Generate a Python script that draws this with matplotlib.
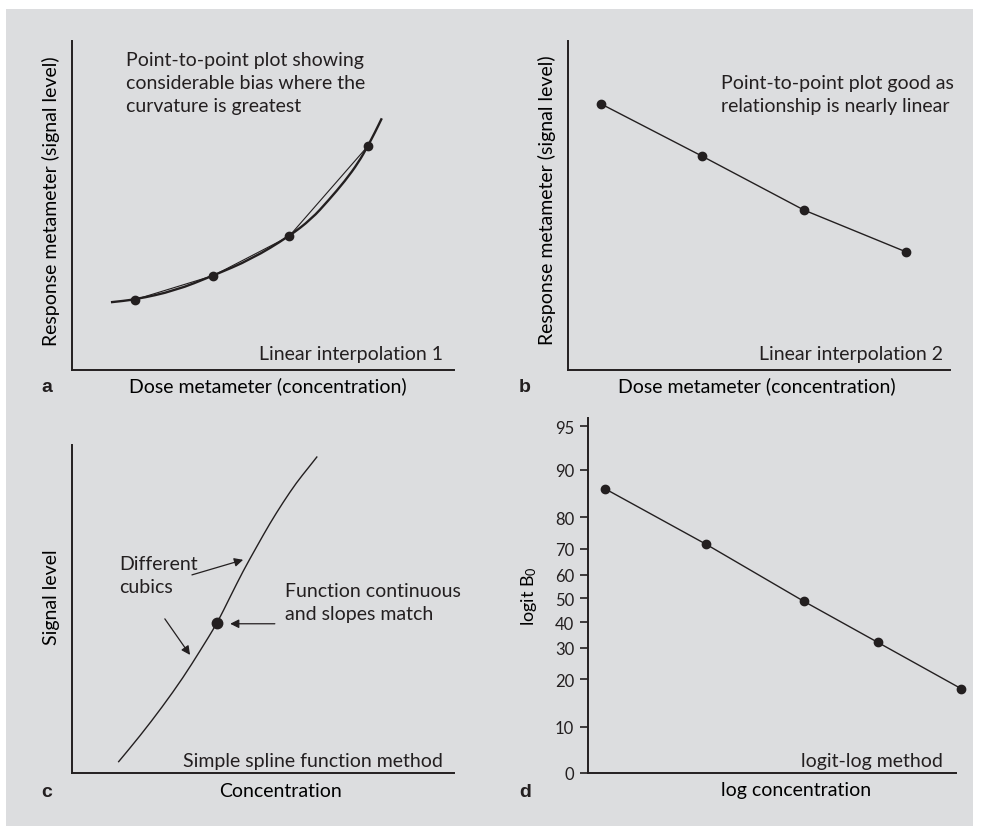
import numpy as np
import matplotlib
matplotlib.use('Agg')
import matplotlib.pyplot as plt
from matplotlib.patches import Rectangle, PathPatch
from matplotlib.path import Path

# --- data (arbitrary units, axes run 0..10) ---
# a: true curve and the four standards joined point to point
curve_a_x = [1.02, 1.65, 2.70, 3.70, 4.70, 5.68, 6.27, 6.71, 7.15, 7.50, 7.74, 7.93, 8.11]
curve_a_y = [2.06, 2.14, 2.41, 2.87, 3.37, 4.06, 4.59, 5.15, 5.75, 6.31, 6.80, 7.22, 7.65]
std_a_x = [1.65, 3.70, 5.68, 7.74]
std_a_y = [2.14, 2.87, 4.06, 6.80]

# b: nearly linear relationship
std_b_x = [0.86, 3.51, 6.18, 8.85]
std_b_y = [8.09, 6.50, 4.86, 3.59]

# c: spline made of two cubics meeting at a knot
curve_c_x = [1.21, 1.78, 2.36, 2.91, 3.35, 3.80, 4.14, 4.48, 4.84, 5.18, 5.53, 5.88, 6.19, 6.42]
curve_c_y = [0.33, 1.13, 2.01, 2.91, 3.72, 4.57, 5.37, 6.16, 6.91, 7.61, 8.26, 8.86, 9.31, 9.65]
knot_c_x = [3.80]
knot_c_y = [4.57]

# d: logit B0 (%) against log concentration
log_conc_d = [0.46, 3.21, 5.87, 7.88, 10.14]
b0_d = [86.7, 71.6, 48.7, 32.0, 17.6]
b0_ticks = [0, 10, 20, 30, 40, 50, 60, 70, 80, 90, 95]

ink = '#231f20'
plt.rcParams['font.family'] = ['Lato', 'DejaVu Sans']
plt.rcParams['mathtext.fontset'] = 'custom'
plt.rcParams['mathtext.rm'] = 'Lato'
plt.rcParams['mathtext.it'] = 'Lato:italic'
plt.rcParams['text.color'] = ink

W, H = 982, 829
fig = plt.figure(figsize=(W / 100, H / 100), dpi=100, facecolor='white')
fig.add_artist(Rectangle((6 / W, 2 / H), 967 / W, 817 / H, transform=fig.transFigure,
                         facecolor='#dcdddf', edgecolor='none', zorder=0))


def px_axes(x0, x1, ytop, ybot):
    return fig.add_axes([x0 / W, (H - ybot) / H, (x1 - x0) / W, (ybot - ytop) / H])


def style(ax, ticks=False):
    ax.set_facecolor('none')
    for s in ['top', 'right']:
        ax.spines[s].set_visible(False)
    for s in ['left', 'bottom']:
        ax.spines[s].set_linewidth(1.4)
        ax.spines[s].set_color(ink)
    ax.set_xticks([])
    if not ticks:
        ax.set_yticks([])


def smooth_line(ax, xs, ys, **kw):
    pts = np.column_stack([xs, ys])
    mids = (pts[:-1] + pts[1:]) / 2
    verts = [pts[0], mids[0]]
    codes = [Path.MOVETO, Path.LINETO]
    for i in range(1, len(pts) - 1):
        verts += [pts[i], mids[i]]
        codes += [Path.CURVE3, Path.CURVE3]
    verts.append(pts[-1])
    codes.append(Path.LINETO)
    ax.add_patch(PathPatch(Path(verts, codes), fill=False, edgecolor=ink, **kw))


fs = 14

# ---------- a ----------
ax_a = px_axes(72, 454, 42, 371)
style(ax_a)
ax_a.set_xlim(0, 10)
ax_a.set_ylim(0, 10)
smooth_line(ax_a, curve_a_x, curve_a_y, lw=1.7, capstyle='butt')
ax_a.plot(std_a_x, std_a_y, color=ink, lw=0.8, marker='o', ms=6)
ax_a.text(1.41, 7.88, 'Point-to-point plot showing\nconsiderable bias where the\ncurvature is greatest',
          fontsize=fs, va='baseline', ha='left', linespacing=1.42)
ax_a.text(0.971, 0.033, 'Linear interpolation 1', transform=ax_a.transAxes,
          fontsize=fs, ha='right', va='baseline')
ax_a.set_xlabel('Dose metameter (concentration)', fontsize=fs, va='baseline')
ax_a.xaxis.set_label_coords(0.513, (371 - 392) / 329)
ax_a.set_ylabel('Response metameter (signal level)', fontsize=fs, va='baseline')
ax_a.yaxis.set_label_coords((57 - 72) / 382, 0.517)

# ---------- b ----------
ax_b = px_axes(568, 950, 42, 371)
style(ax_b)
ax_b.set_xlim(0, 10)
ax_b.set_ylim(0, 10)
ax_b.plot(std_b_x, std_b_y, color=ink, lw=1.0, marker='o', ms=6)
ax_b.text(4.01, 7.87, 'Point-to-point plot good as\nrelationship is nearly linear',
          fontsize=fs, va='baseline', ha='left', linespacing=1.42)
ax_b.text(0.982, 0.033, 'Linear interpolation 2', transform=ax_b.transAxes,
          fontsize=fs, ha='right', va='baseline')
ax_b.set_xlabel('Dose metameter (concentration)', fontsize=fs, va='baseline')
ax_b.xaxis.set_label_coords((757 - 568) / 382, (371 - 392) / 329)
ax_b.set_ylabel('Response metameter (signal level)', fontsize=fs, va='baseline')
ax_b.yaxis.set_label_coords((553 - 568) / 382, 0.518)

# ---------- c ----------
ax_c = px_axes(72, 454, 446, 774)
style(ax_c)
ax_c.set_xlim(0, 10)
ax_c.set_ylim(0, 10)
smooth_line(ax_c, curve_c_x, curve_c_y, lw=1.0)
ax_c.plot(knot_c_x, knot_c_y, 'o', color=ink, ms=7.5)
arrow = dict(arrowstyle='-|>', color=ink, lw=0.9, mutation_scale=13, shrinkA=0, shrinkB=0)
ax_c.annotate('', xy=(4.48, 6.50), xytext=(3.14, 6.04), arrowprops=arrow)
ax_c.annotate('', xy=(3.09, 3.60), xytext=(2.43, 4.70), arrowprops=arrow)
ax_c.annotate('', xy=(4.14, 4.55), xytext=(5.31, 4.55), arrowprops=arrow)
ax_c.text(1.24, 5.52, 'Different\ncubics', fontsize=fs, va='baseline', ha='left', linespacing=1.42)
ax_c.text(5.58, 4.70, 'Function continuous\nand slopes match', fontsize=fs,
          va='baseline', ha='left', linespacing=1.42)
ax_c.text(0.971, 0.021, 'Simple spline function method', transform=ax_c.transAxes,
          fontsize=fs, ha='right', va='baseline')
ax_c.set_xlabel('Concentration', fontsize=fs, va='baseline')
ax_c.xaxis.set_label_coords((281 - 72) / 382, (774 - 797) / 328)
ax_c.set_ylabel('Signal level', fontsize=fs, va='baseline')
ax_c.yaxis.set_label_coords((57 - 72) / 382, 0.539)

# ---------- d ----------
def to_logit(p):
    p = np.clip(np.asarray(p, dtype=float), 4.81, 99.0) / 100
    return np.log(p / (1 - p))


def from_logit(y):
    return 100 / (1 + np.exp(-np.asarray(y, dtype=float)))


ax_d = px_axes(588, 956, 419, 774)
style(ax_d, ticks=True)
ax_d.set_yscale('function', functions=(to_logit, from_logit))
ax_d.set_xlim(0, 10)
ax_d.set_ylim(0, 95.62)
ax_d.plot(log_conc_d, b0_d, color=ink, lw=1.0, marker='o', ms=6, clip_on=False)
ax_d.set_yticks(b0_ticks, labels=[str(t) for t in b0_ticks])
ax_d.yaxis.set_minor_locator(matplotlib.ticker.NullLocator())
ax_d.tick_params(axis='y', direction='out', length=6, width=1.2, color=ink,
                 labelsize=12, labelcolor=ink, pad=4)
ax_d.text(0.965, 0.020, 'logit-log method', transform=ax_d.transAxes,
          fontsize=fs, ha='right', va='baseline')
ax_d.set_xlabel('log concentration', fontsize=fs, va='baseline')
ax_d.xaxis.set_label_coords((796 - 588) / 368, (774 - 796) / 355)
ax_d.set_ylabel('logit B$_0$', fontsize=13, va='baseline')
ax_d.yaxis.set_label_coords((534 - 588) / 368, 0.501)

# panel letters
for letter, x, y in [('a', 41, 392), ('b', 519, 392), ('c', 41, 797), ('d', 519, 797)]:
    fig.text(x / W, (H - y) / H, letter, fontsize=fs, fontweight='bold',
             family=['Liberation Sans', 'DejaVu Sans'], ha='left', va='baseline')

fig.savefig('out.png', dpi=100, facecolor='white')
